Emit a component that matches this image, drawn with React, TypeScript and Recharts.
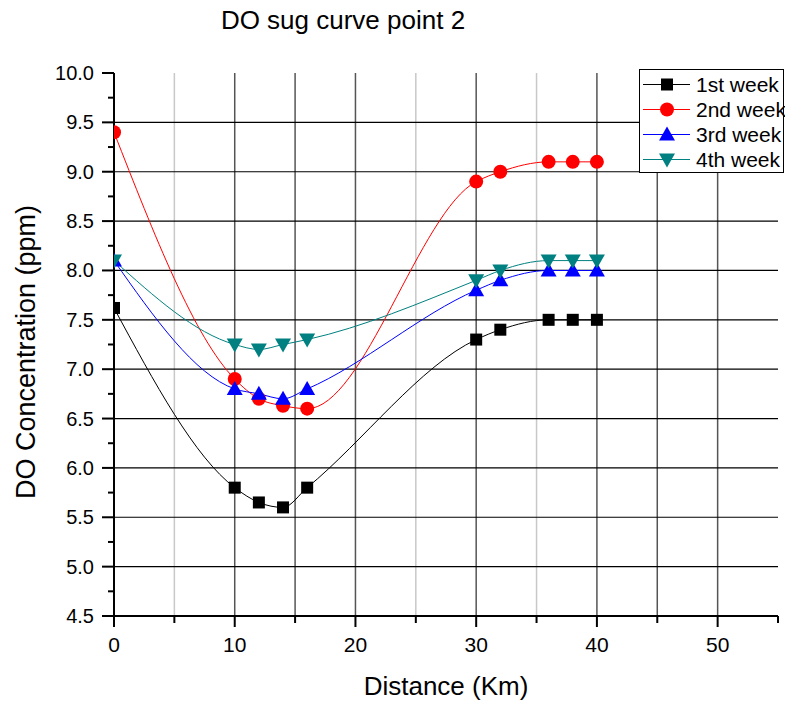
import React from 'react';
import { LineChart, Line, XAxis, YAxis, ReferenceLine, Legend } from 'recharts';

const distances = [0, 10, 12, 14, 16, 30, 32, 36, 38, 40];
const week1 = [7.62, 5.8, 5.65, 5.6, 5.8, 7.3, 7.4, 7.5, 7.5, 7.5];
const week2 = [9.4, 6.9, 6.7, 6.63, 6.6, 8.9, 9.0, 9.1, 9.1, 9.1];
const week3 = [8.1, 6.8, 6.75, 6.7, 6.8, 7.8, 7.9, 8.0, 8.0, 8.0];
const week4 = [8.1, 7.25, 7.2, 7.25, 7.3, 7.9, 8.0, 8.1, 8.1, 8.1];

const seriesNames = ['1st week', '2nd week', '3rd week', '4th week'];

const xTicks = [0, 5, 10, 15, 20, 25, 30, 35, 40, 45, 50, 55];
const xLabels = [0, 10, 20, 30, 40, 50];
const yTicks = [4.5, 4.75, 5, 5.25, 5.5, 5.75, 6, 6.25, 6.5, 6.75, 7, 7.25, 7.5, 7.75, 8, 8.25, 8.5, 8.75, 9, 9.25, 9.5, 9.75, 10];
const yLabels = [4.5, 5, 5.5, 6, 6.5, 7, 7.5, 8, 8.5, 9, 9.5, 10];
const xGrid = [5, 10, 15, 20, 25, 30, 35, 40, 45, 50];
const yGrid = [5, 5.5, 6, 6.5, 7, 7.5, 8, 8.5, 9, 9.5];

const data = distances.map((d, i) => ({
  distance: d,
  w1: week1[i],
  w2: week2[i],
  w3: week3[i],
  w4: week4[i],
}));

const FONT = "'Liberation Sans', Arial, sans-serif";

type Shape = 'square' | 'circle' | 'up' | 'down';

const series: { key: string; color: string; shape: Shape }[] = [
  { key: 'w1', color: '#000000', shape: 'square' },
  { key: 'w2', color: '#ff0000', shape: 'circle' },
  { key: 'w3', color: '#0000ff', shape: 'up' },
  { key: 'w4', color: '#008080', shape: 'down' },
];

const Marker = ({ cx, cy, color, shape }: { cx: number; cy: number; color: string; shape: Shape }) => {
  if (shape === 'square') {
    return <rect x={cx - 6} y={cy - 6} width={12} height={12} fill={color} />;
  }
  if (shape === 'circle') {
    return <circle cx={cx} cy={cy} r={7} fill={color} />;
  }
  if (shape === 'up') {
    return <polygon points={`${cx},${cy - 8} ${cx - 8},${cy + 6} ${cx + 8},${cy + 6}`} fill={color} />;
  }
  return <polygon points={`${cx},${cy + 8} ${cx - 8},${cy - 6} ${cx + 8},${cy - 6}`} fill={color} />;
};

const XTick = (props: any) => {
  const { x, y, payload } = props;
  const v = payload.value;
  const major = xLabels.includes(v);
  return (
    <g>
      <line x1={x} x2={x} y1={y} y2={y + (major ? 11 : 7)} stroke="#000" strokeWidth={2} />
      {major && (
        <text x={x} y={y + 36} textAnchor="middle" fontSize={21} fontFamily={FONT} fill="#000">
          {v}
        </text>
      )}
    </g>
  );
};

const YTick = (props: any) => {
  const { x, y, payload } = props;
  const v = payload.value;
  const major = yLabels.some((l) => Math.abs(l - v) < 1e-6);
  return (
    <g>
      <line x1={x - (major ? 12 : 6)} x2={x} y1={y} y2={y} stroke="#000" strokeWidth={2} />
      {major && (
        <text x={x - 20} y={y + 7} textAnchor="end" fontSize={20} fontFamily={FONT} fill="#000">
          {v.toFixed(1)}
        </text>
      )}
    </g>
  );
};

const LegendBox = () => (
  <div
    style={{
      border: '1px solid #000',
      background: '#fff',
      width: 145,
      height: 104,
      boxSizing: 'border-box',
      padding: '2px 0 0 0',
      fontFamily: FONT,
    }}
  >
    {series.map((s, i) => (
      <div key={s.key} style={{ display: 'flex', alignItems: 'center', height: 25 }}>
        <svg width={54} height={25} style={{ flexShrink: 0 }}>
          <line x1={3} x2={50} y1={12.5} y2={12.5} stroke={s.color} strokeWidth={1} />
          <Marker cx={27} cy={12.5} color={s.color} shape={s.shape} />
        </svg>
        <span style={{ fontSize: 21, color: '#000', whiteSpace: 'nowrap', marginLeft: 2 }}>{seriesNames[i]}</span>
      </div>
    ))}
  </div>
);

const gridColor = (v: number) => ([5, 25, 35].includes(v) ? '#c8c8c8' : '#555555');

const App: React.FC = () => {
  return (
    <div style={{ position: 'absolute', left: 0, top: 0, width: 785, height: 704, background: '#fff', fontFamily: FONT }}>
      <div style={{ position: 'absolute', left: 0, width: 686, top: 5, textAlign: 'center', fontSize: 26, color: '#000' }}>
        DO sug curve point 2
      </div>
      <div style={{ position: 'absolute', left: 246, width: 400, top: 671, textAlign: 'center', fontSize: 26, color: '#000' }}>
        Distance (Km)
      </div>
      <div
        style={{
          position: 'absolute',
          left: 26 - 200,
          top: 352 - 16,
          width: 400,
          height: 32,
          lineHeight: '32px',
          textAlign: 'center',
          fontSize: 27,
          color: '#000',
          transform: 'rotate(-90deg)',
        }}
      >
        DO Concentration (ppm)
      </div>
      <LineChart
        width={785}
        height={704}
        data={data}
        margin={{ top: 73, right: 7, bottom: 58, left: 54 }}
        style={{ position: 'absolute', left: 0, top: 0 }}
      >
        {xGrid.map((v) => (
          <ReferenceLine key={`x${v}`} x={v} stroke={gridColor(v)} strokeWidth={1.5} />
        ))}
        {yGrid.map((v) => (
          <ReferenceLine key={`y${v}`} y={v} stroke="#000" strokeWidth={1.2} />
        ))}
        <XAxis
          type="number"
          dataKey="distance"
          domain={[0, 55]}
          ticks={xTicks}
          interval={0}
          height={30}
          tickSize={0}
          tickMargin={0}
          tick={<XTick />}
          axisLine={{ stroke: '#000', strokeWidth: 2 }}
          allowDataOverflow
        />
        <YAxis
          type="number"
          domain={[4.5, 10]}
          ticks={yTicks}
          interval={0}
          width={60}
          tickSize={0}
          tickMargin={0}
          tick={<YTick />}
          axisLine={{ stroke: '#000', strokeWidth: 2 }}
          allowDataOverflow
        />
        {series.map((s, i) => (
          <Line
            key={s.key}
            type="monotone"
            dataKey={s.key}
            name={seriesNames[i]}
            stroke={s.color}
            strokeWidth={1}
            isAnimationActive={false}
            dot={(p: any) => <Marker key={`${s.key}-${p.index}`} cx={p.cx} cy={p.cy} color={s.color} shape={s.shape} />}
            activeDot={false}
          />
        ))}
        <Legend
          layout="horizontal"
          verticalAlign="middle"
          align="center"
          content={() => <LegendBox />}
          wrapperStyle={{ position: 'absolute', left: 639, top: 69, width: 145 }}
        />
      </LineChart>
    </div>
  );
};

export default App;
